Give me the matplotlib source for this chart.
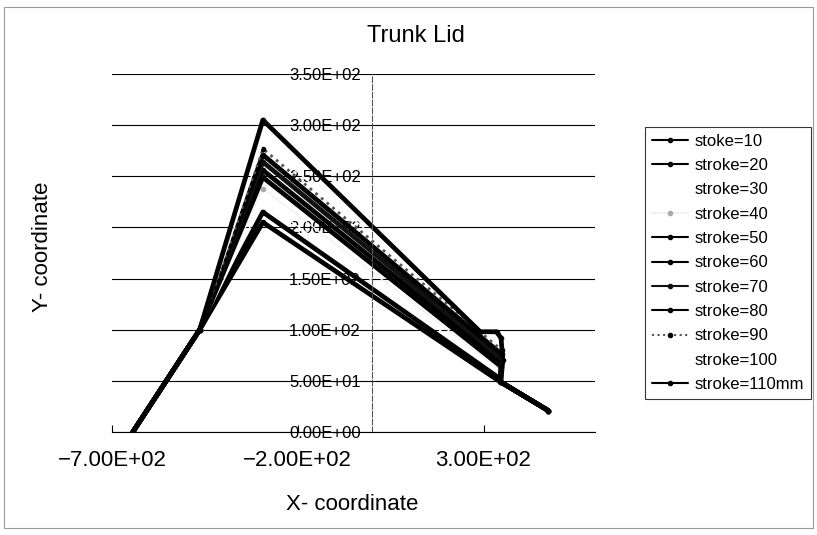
import matplotlib.pyplot as plt
import matplotlib.ticker as mticker
from matplotlib.patches import Rectangle

# profile of the trunk lid edge for each stroke
labels = ['stoke=10', 'stroke=20', 'stroke=30', 'stroke=40', 'stroke=50', 'stroke=60',
          'stroke=70', 'stroke=80', 'stroke=90', 'stroke=100', 'stroke=110mm']

x10 = [-644, -464, -294, 345, 474]
y10 = [0, 100, 205, 49, 21]
x20 = [-644, -464, -294, 345, 346, 474]
y20 = [0, 100, 215, 52, 49, 21]
x30 = [-644, -464, -294, 346, 346, 474]
y30 = [0, 100, 226, 56, 49, 21]
x40 = [-644, -464, -294, 347, 346, 474]
y40 = [0, 100, 238, 60, 49, 21]
x50 = [-644, -464, -294, 347, 346, 474]
y50 = [0, 100, 249, 64, 49, 21]
x60 = [-644, -464, -294, 348, 346, 474]
y60 = [0, 100, 256, 68, 49, 21]
x70 = [-644, -464, -294, 348, 346, 474]
y70 = [0, 100, 264, 72, 49, 21]
x80 = [-644, -464, -294, 349, 346, 474]
y80 = [0, 100, 271, 76, 49, 21]
x90 = [-644, -464, -294, 349, 346, 474]
y90 = [0, 100, 277, 80, 49, 21]
x100 = [-644, -464, -294, 350, 346, 474]
y100 = [0, 100, 283, 85, 49, 21]
x110 = [-644, -464, -294, 291, 335, 347, 352, 346, 474]
y110 = [0, 100, 305, 98, 98, 92, 70, 49, 21]

xs = [x10, x20, x30, x40, x50, x60, x70, x80, x90, x100, x110]
ys = [y10, y20, y30, y40, y50, y60, y70, y80, y90, y100, y110]

colors = ['black', 'black', 'white', '#f2f2f2', 'black', 'black',
          '#111111', 'black', '#555555', 'white', 'black']
styles = ['-', '-', '-', '-', '-', '-', '-', '-', ':', '-', '-']
widths = [3.4, 3.4, 1.0, 1.0, 3.4, 3.4, 3.4, 3.4, 2.0, 1.0, 3.4]
mcolors = ['black', 'black', 'white', '#aaaaaa', 'black', 'black',
           '#111111', 'black', 'black', 'white', 'black']

fig = plt.figure(figsize=(8.17, 5.35), dpi=100)
ax = fig.add_axes([112/817, 1-432/535, 483/817, 358/535])

for x, y, c, ls, w, mc, lab in zip(xs, ys, colors, styles, widths, mcolors, labels):
    ax.plot(x, y, color=c, linestyle=ls, lw=w, marker='o', markersize=3,
            markerfacecolor=mc, markeredgecolor=mc, label=lab,
            solid_joinstyle='round', solid_capstyle='round')

ax.set_xlim(-700, 600)
ax.set_ylim(0, 350)
ax.set_xticks([-700, -200, 300])
ax.set_yticks([0, 50, 100, 150, 200, 250, 300, 350])

ax.xaxis.set_major_formatter(mticker.FuncFormatter(lambda v, p: f'{v:.2E}'.replace('-', '\u2212', 1) if v < 0 else f'{v:.2E}'))
ax.yaxis.set_major_formatter(mticker.FuncFormatter(lambda v, p: f'{v:.2E}'))

ax.spines['top'].set_visible(False)
ax.spines['right'].set_visible(False)
ax.spines['left'].set_position(('data', 0))
ax.spines['left'].set_linestyle((0, (5, 2)))
ax.spines['left'].set_color('#555555')
ax.spines['left'].set_linewidth(0.8)
ax.spines['bottom'].set_linewidth(0.8)

ax.yaxis.grid(True, color='black', lw=0.8)
ax.set_axisbelow(True)

ax.tick_params(axis='x', direction='in', length=5, width=0.8, pad=13, labelsize=16)
ax.tick_params(axis='y', length=0, pad=8, labelsize=12)
for t in ax.get_xticklabels():
    t.set_fontfamily(['Liberation Sans', 'DejaVu Sans'])
for t in ax.get_yticklabels():
    t.set_fontfamily(['Liberation Sans Narrow', 'Liberation Sans', 'DejaVu Sans'])

fig.text(416/817, 1-36/535, 'Trunk Lid', ha='center', va='center', fontsize=17,
         family=['Liberation Sans Narrow', 'Liberation Sans', 'DejaVu Sans'])
fig.text(352/817, 1-504/535, 'X- coordinate', ha='center', va='center', fontsize=16,
         family=['Liberation Sans', 'DejaVu Sans'])
fig.text(43/817, 1-247/535, 'Y- coordinate', ha='center', va='center', fontsize=16,
         rotation=90, family=['Liberation Sans', 'DejaVu Sans'])

leg = fig.legend(loc='upper left', bbox_to_anchor=(645/817, 1-127/535), frameon=True,
                 fancybox=False, edgecolor='black', borderaxespad=0, handlelength=2.2,
                 handletextpad=0.4, labelspacing=0.56, borderpad=0.4,
                 prop={'family': 'Liberation Sans', 'size': 12})
leg.get_frame().set_linewidth(0.8)
for h in leg.get_lines():
    h.set_linewidth(1.5)

fig.patches.append(Rectangle((4/817, 1-528/535), 809/817, 521/535, transform=fig.transFigure,
                             fill=False, edgecolor='#999999', lw=0.8))

plt.savefig('out.png', dpi=100)
